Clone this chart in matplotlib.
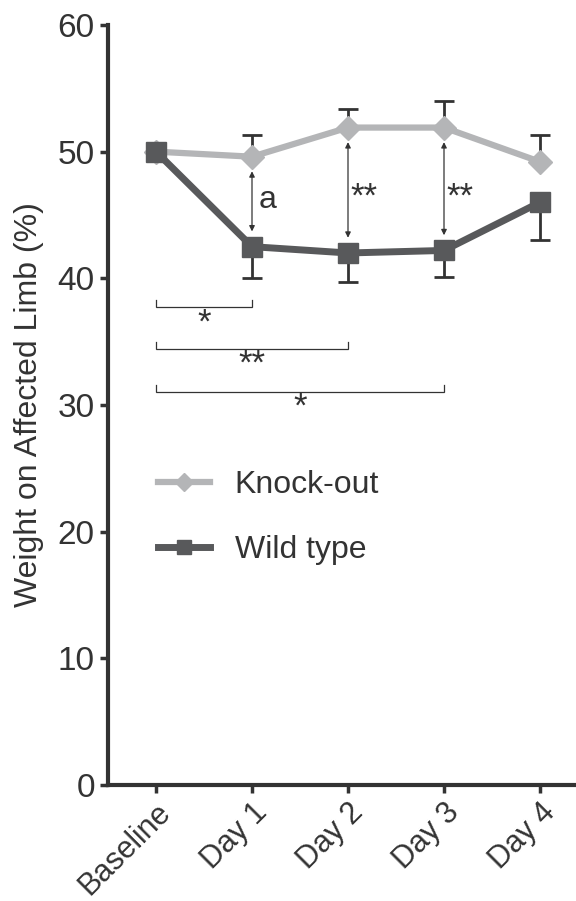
import matplotlib
matplotlib.use("Agg")
import matplotlib.pyplot as plt

plt.rcParams['font.family'] = ['Liberation Sans', 'DejaVu Sans']

categories = ["Baseline", "Day 1", "Day 2", "Day 3", "Day 4"]
ko_mean = [50.0, 49.6, 51.9, 51.9, 49.2]
ko_err_up = [0.0, 1.7, 1.5, 2.1, 2.1]
wt_mean = [50.0, 42.5, 42.0, 42.2, 46.0]
wt_err_down = [0.0, 2.5, 2.3, 2.1, 3.0]

# significance between groups at each day: (index, label)
group_sig = [(1, "a"), (2, "**"), (3, "**")]
# significance vs baseline for wild type: (end index, bracket level, label)
baseline_sig = [(1, 37.7, "*"), (2, 34.4, "**"), (3, 31.0, "*")]

ko_color = "#b4b5b7"
wt_color = "#58595b"
ink = "#333333"

fig = plt.figure(figsize=(5.76, 9.01), dpi=100)
ax = fig.add_axes([0.1875, 0.1287, 0.8125, 0.8436])

x = list(range(len(categories)))

# error bars (one-sided)
ax.errorbar(x[1:], ko_mean[1:], yerr=[[0]*4, ko_err_up[1:]], fmt="none",
            ecolor=ink, elinewidth=2, capsize=7.5, capthick=2, zorder=2)
ax.errorbar(x[1:], wt_mean[1:], yerr=[wt_err_down[1:], [0]*4], fmt="none",
            ecolor=ink, elinewidth=2, capsize=7.5, capthick=2, zorder=2)

ax.plot(x, ko_mean, color=ko_color, lw=4.5, marker="D", markersize=12,
        markerfacecolor=ko_color, markeredgecolor=ko_color, zorder=3, label="Knock-out")
ax.plot(x, wt_mean, color=wt_color, lw=5, marker="s", markersize=14,
        markerfacecolor=wt_color, markeredgecolor=wt_color, zorder=4, label="Wild type")

# double-headed arrows between groups
for i, lab in group_sig:
    top = ko_mean[i] - 1.15
    bot = wt_mean[i] + 1.2
    ax.annotate("", xy=(i, bot), xytext=(i, top),
                arrowprops=dict(arrowstyle="<|-|>", color=ink, lw=0.9,
                                mutation_scale=8, shrinkA=0, shrinkB=0), zorder=5)
    if lab == "a":
        ax.text(i + 0.07, 46.2, lab, fontsize=23, color=ink,
                ha="left", va="center")
    else:
        ax.text(i + 0.03, 46.4, lab, fontsize=25, color=ink,
                ha="left", va="center")

# brackets vs baseline
for j, lvl, lab in baseline_sig:
    ax.plot([0, 0, j, j], [lvl + 0.55, lvl, lvl, lvl + 0.55], color=ink, lw=0.9,
            solid_joinstyle="miter", zorder=2)
    ax.text(j / 2, lvl + 0.1, lab, fontsize=25, color=ink, ha="center", va="top")

ax.set_xlim(-0.5, 4.375)
ax.set_ylim(0, 60)
ax.set_yticks([0, 10, 20, 30, 40, 50, 60])
ax.set_xticks(x)
ax.set_xticklabels(categories, rotation=45, ha="right", rotation_mode="anchor")

for s in ["top", "right"]:
    ax.spines[s].set_visible(False)
for s in ["left", "bottom"]:
    ax.spines[s].set_linewidth(3)
    ax.spines[s].set_color(ink)
ax.tick_params(axis="both", direction="out", length=6, width=2.5, color=ink,
               labelsize=24, labelcolor=ink, pad=3.5)
ax.tick_params(axis="x", labelsize=22, pad=3)

ax.set_ylabel("Weight on Affected Limb (%)", fontsize=23, color=ink, labelpad=10)

leg = ax.legend(loc="center left", bbox_to_anchor=(0.079, 0.352), borderaxespad=0,
                frameon=False, fontsize=23, handlelength=1.63, handletextpad=0.78,
                labelspacing=1.08, labelcolor=ink, markerscale=0.75)

fig.savefig("out.png", dpi=100)
